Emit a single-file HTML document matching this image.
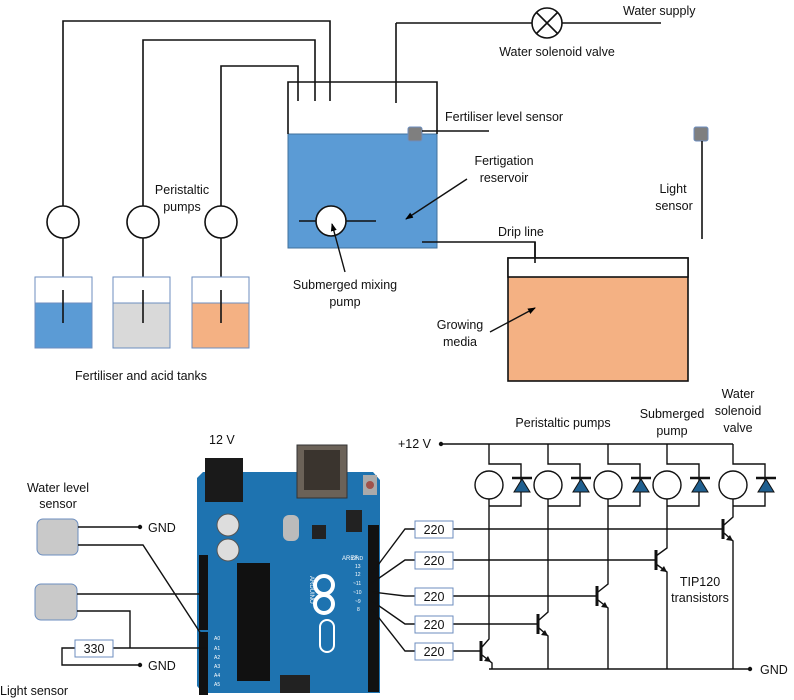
<!DOCTYPE html>
<html><head><meta charset="utf-8"><style>
body{margin:0;background:#fff}
svg{display:block}
text{font-family:"Liberation Sans",sans-serif;font-size:12.5px;fill:#111}
</style></head><body>
<svg width="794" height="700" viewBox="0 0 794 700" xmlns="http://www.w3.org/2000/svg">
<defs>
<marker id="ar" markerWidth="8" markerHeight="8" refX="7" refY="4" orient="auto" markerUnits="userSpaceOnUse"><path d="M0,1 L8,4 L0,7 Z" fill="#000"/></marker>
</defs>
<g fill="none" stroke="#111" stroke-width="1.6">
<!-- tank pipes -->
<polyline points="63,206 63,21 330,21 330,101"/>
<polyline points="143,206 143,40 315,40 315,101"/>
<polyline points="221,206 221,66 298,66 298,101"/>
<line x1="63" y1="238" x2="63" y2="323"/>
<line x1="143" y1="238" x2="143" y2="323"/>
<line x1="221" y1="238" x2="221" y2="323"/>
</g>
<!-- tanks -->
<rect x="35" y="277" width="57" height="71" fill="#fff" stroke="#6c8ebf" stroke-width="1"/>
<rect x="35" y="303" width="57" height="45" fill="#5b9bd5" stroke="#6c8ebf" stroke-width="1"/>
<rect x="113" y="277" width="57" height="71" fill="#fff" stroke="#6c8ebf" stroke-width="1"/>
<rect x="113" y="303" width="57" height="45" fill="#d9d9d9" stroke="#6c8ebf" stroke-width="1"/>
<rect x="192" y="277" width="57" height="71" fill="#fff" stroke="#6c8ebf" stroke-width="1"/>
<rect x="192" y="303" width="57" height="45" fill="#f4b183" stroke="#6c8ebf" stroke-width="1"/>
<g stroke="#111" stroke-width="1.6">
<line x1="63" y1="290" x2="63" y2="323"/><line x1="143" y1="290" x2="143" y2="323"/><line x1="221" y1="290" x2="221" y2="323"/>
</g>
<g fill="#fff" stroke="#111" stroke-width="1.6">
<circle cx="63" cy="222" r="16"/><circle cx="143" cy="222" r="16"/><circle cx="221" cy="222" r="16"/>
</g>
<!-- reservoir -->
<rect x="288" y="134" width="149" height="114" fill="#5b9bd5" stroke="#41719c" stroke-width="1"/>
<polyline points="288,134 288,82 437,82 437,134" fill="none" stroke="#111" stroke-width="1.6"/>
<line x1="396" y1="23" x2="396" y2="103" stroke="#111" stroke-width="1.6"/>
<line x1="396" y1="23" x2="532" y2="23" stroke="#111" stroke-width="1.6"/>
<line x1="562" y1="23" x2="661" y2="23" stroke="#111" stroke-width="1.6"/>
<circle cx="547" cy="23" r="15" fill="#fff" stroke="#111" stroke-width="1.6"/>
<line x1="536" y1="12" x2="558" y2="34" stroke="#111" stroke-width="1.6"/>
<line x1="558" y1="12" x2="536" y2="34" stroke="#111" stroke-width="1.6"/>
<rect x="408" y="127" width="14" height="14" rx="2" fill="#7f7f7f" stroke="#6c8ebf" stroke-width="1"/>
<line x1="422" y1="131" x2="489" y2="131" stroke="#111" stroke-width="1.4"/>
<line x1="299" y1="221" x2="376" y2="221" stroke="#111" stroke-width="1.6"/>
<circle cx="331" cy="221" r="15" fill="#fff" stroke="#111" stroke-width="1.6"/>
<line x1="345" y1="272" x2="332" y2="224" stroke="#111" stroke-width="1.4" marker-end="url(#ar)"/>
<line x1="467" y1="179" x2="406" y2="219" stroke="#111" stroke-width="1.4" marker-end="url(#ar)"/>
<polyline points="422,242 535,242 535,263" fill="none" stroke="#111" stroke-width="1.6"/>
<!-- growing media -->
<rect x="508" y="258" width="180" height="123" fill="#f4b183" stroke="#111" stroke-width="1.6"/>
<rect x="508" y="258" width="180" height="19" fill="#fff" stroke="#111" stroke-width="1.6"/>
<line x1="535" y1="242" x2="535" y2="263" stroke="#111" stroke-width="1.6"/>
<line x1="490" y1="332" x2="535" y2="308" stroke="#111" stroke-width="1.4" marker-end="url(#ar)"/>
<rect x="694" y="127" width="14" height="14" rx="2" fill="#7f7f7f" stroke="#6c8ebf" stroke-width="1"/>
<line x1="702" y1="141" x2="702" y2="239" stroke="#111" stroke-width="1.6"/>
<!-- top texts -->
<text x="623" y="15">Water supply</text>
<text x="557" y="56" text-anchor="middle">Water solenoid valve</text>
<text x="445" y="121">Fertiliser level sensor</text>
<text x="504" y="165" text-anchor="middle">Fertigation</text>
<text x="504" y="182" text-anchor="middle">reservoir</text>
<text x="182" y="194" text-anchor="middle">Peristaltic</text>
<text x="182" y="211" text-anchor="middle">pumps</text>
<text x="673" y="193" text-anchor="middle">Light</text>
<text x="674" y="210" text-anchor="middle">sensor</text>
<text x="498" y="236">Drip line</text>
<text x="345" y="289" text-anchor="middle">Submerged  mixing</text>
<text x="345" y="306" text-anchor="middle">pump</text>
<text x="460" y="329" text-anchor="middle">Growing</text>
<text x="460" y="346" text-anchor="middle">media</text>
<text x="141" y="380" text-anchor="middle">Fertiliser and acid tanks</text>

<!-- Arduino -->
<path d="M203,472 L373,472 L380,480 L380,693 L203,693 L197,686 L197,478 Z" fill="#1e73b0"/>
<rect x="205" y="458" width="38" height="44" fill="#1a1a1a"/>
<rect x="297" y="445" width="50" height="53" fill="#6b6258" stroke="#333"/>
<rect x="304" y="450" width="36" height="40" fill="#3a342e"/>
<rect x="363" y="475" width="14" height="20" fill="#aaa"/>
<circle cx="370" cy="485" r="4" fill="#a0524a"/>
<rect x="199" y="555" width="9" height="75" fill="#111"/>
<rect x="199" y="632" width="9" height="63" fill="#111"/>
<rect x="368" y="525" width="11" height="167" fill="#111"/>
<rect x="237" y="563" width="33" height="118" fill="#111"/>
<rect x="346" y="510" width="16" height="22" fill="#222"/>
<rect x="280" y="675" width="30" height="18" fill="#222"/>
<circle cx="228" cy="525" r="11" fill="#ddd" stroke="#555"/>
<circle cx="228" cy="550" r="11" fill="#ddd" stroke="#555"/>
<rect x="283" y="515" width="16" height="26" rx="6" fill="#bbb"/>
<rect x="312" y="525" width="14" height="14" fill="#222"/>
<circle cx="324" cy="585" r="9" fill="none" stroke="#fff" stroke-width="4"/>
<circle cx="324" cy="604" r="9" fill="none" stroke="#fff" stroke-width="4"/>
<rect x="320" y="620" width="14" height="32" rx="7" fill="none" stroke="#fff" stroke-width="2"/>
<text x="310" y="576" style="font-size:6px;fill:#fff" transform="rotate(90 310 576)">ARDUINO</text>
<text x="342" y="560" style="font-size:6px;fill:#fff">AREF</text>
<g style="font-size:6px" fill="#fff">
<text x="352" y="560" style="font-size:5px;fill:#fff">GND</text>
<text x="355" y="568" style="font-size:5px;fill:#fff">13</text>
<text x="355" y="576" style="font-size:5px;fill:#fff">12</text>
<text x="353" y="585" style="font-size:5px;fill:#fff">~11</text>
<text x="353" y="594" style="font-size:5px;fill:#fff">~10</text>
<text x="355" y="603" style="font-size:5px;fill:#fff">~9</text>
<text x="357" y="611" style="font-size:5px;fill:#fff">8</text>
<text x="214" y="640" style="font-size:5px;fill:#fff">A0</text>
<text x="214" y="650" style="font-size:5px;fill:#fff">A1</text>
<text x="214" y="659" style="font-size:5px;fill:#fff">A2</text>
<text x="214" y="668" style="font-size:5px;fill:#fff">A3</text>
<text x="214" y="677" style="font-size:5px;fill:#fff">A4</text>
<text x="214" y="686" style="font-size:5px;fill:#fff">A5</text>
</g>
<text x="209" y="444">12 V</text>

<!-- left sensors -->
<text x="58" y="492" text-anchor="middle">Water level</text>
<text x="58" y="508" text-anchor="middle">sensor</text>
<rect x="37" y="519" width="41" height="36" rx="6" fill="#c9c9c9" stroke="#6c8ebf"/>
<rect x="35" y="584" width="42" height="36" rx="6" fill="#c9c9c9" stroke="#6c8ebf"/>
<g fill="none" stroke="#111" stroke-width="1.4">
<line x1="78" y1="527" x2="140" y2="527"/>
<polyline points="78,545 143,545 203,637"/>
<line x1="77" y1="594" x2="201" y2="594"/>
<polyline points="77,611 130,611 130,648"/>
<line x1="113" y1="648" x2="207" y2="648"/>
<polyline points="75,648 62,648 62,665 140,665"/>
</g>
<circle cx="140" cy="527" r="2.2" fill="#111"/>
<circle cx="140" cy="665" r="2.2" fill="#111"/>
<text x="148" y="532">GND</text>
<text x="148" y="670">GND</text>
<rect x="75" y="640" width="38" height="17" fill="#fff" stroke="#6c8ebf"/>
<text x="94" y="653" text-anchor="middle">330</text>
<text x="0" y="695">Light sensor</text>

<!-- driver circuit -->
<g fill="none" stroke="#111" stroke-width="1.4">
<line x1="441" y1="444" x2="733" y2="444"/>
<line x1="489" y1="669" x2="750" y2="669"/>
<!-- wires to arduino -->
<polyline points="372,573 405,529 415,529"/>
<polyline points="372,583 405,560 415,560"/>
<polyline points="372,592 405,596 415,596"/>
<polyline points="372,601 405,624 415,624"/>
<polyline points="372,609 405,651 415,651"/>
</g>
<circle cx="441" cy="444" r="2.2" fill="#111"/>
<circle cx="750" cy="669" r="2.2" fill="#111"/>
<text x="398" y="448">+12 V</text>
<text x="760" y="674">GND</text>

<g id="motors" stroke="#111" stroke-width="1.4" fill="none">
<!-- col x: 489,548,608,667,733 -->
<g>
<polyline points="489,444 489,464 521,464 521,506 489,506"/>
<polyline points="548,444 548,464 580,464 580,506 548,506"/>
<polyline points="608,444 608,464 640,464 640,506 608,506"/>
<polyline points="667,444 667,464 699,464 699,506 667,506"/>
<polyline points="733,444 733,464 765,464 765,506 733,506"/>
</g>
</g>
<g fill="#fff" stroke="#111" stroke-width="1.4">
<circle cx="489" cy="485" r="14"/><circle cx="548" cy="485" r="14"/><circle cx="608" cy="485" r="14"/><circle cx="667" cy="485" r="14"/><circle cx="733" cy="485" r="14"/>
</g>
<g fill="#1f5f8f" stroke="#111" stroke-width="1">
<path d="M512,478 L532,478 M514,492 L530,492 L522,479 Z"/>
<path d="M571,478 L591,478 M573,492 L589,492 L581,479 Z"/>
<path d="M631,478 L651,478 M633,492 L649,492 L641,479 Z"/>
<path d="M690,478 L710,478 M692,492 L708,492 L700,479 Z"/>
<path d="M756,478 L776,478 M758,492 L774,492 L766,479 Z"/>
</g>
<g stroke="#111" stroke-width="2.4">
<line x1="512" y1="478" x2="532" y2="478"/><line x1="571" y1="478" x2="591" y2="478"/><line x1="631" y1="478" x2="651" y2="478"/><line x1="690" y1="478" x2="710" y2="478"/><line x1="756" y1="478" x2="776" y2="478"/>
</g>
<!-- transistors -->
<g fill="none" stroke="#111" stroke-width="1.4">
<!-- row1 -->
<line x1="453" y1="529" x2="723" y2="529"/>
<polyline points="733,499 733,517 724,525"/>
<polyline points="724,533 733,541 733,669"/>
<!-- row2 -->
<line x1="453" y1="560" x2="655" y2="560"/>
<polyline points="667,499 667,548 656,556"/>
<polyline points="656,564 667,572 667,669"/>
<!-- row3 -->
<line x1="453" y1="596" x2="597" y2="596"/>
<polyline points="608,499 608,584 598,592"/>
<polyline points="598,600 608,608 608,669"/>
<!-- row4 -->
<line x1="453" y1="624" x2="538" y2="624"/>
<polyline points="548,499 548,612 539,620"/>
<polyline points="539,628 548,636 548,669"/>
<!-- row5 -->
<line x1="453" y1="651" x2="481" y2="651"/>
<polyline points="489,499 489,639 482,647"/>
<polyline points="482,655 492,663 492,669"/>
</g>
<g stroke="#111" stroke-width="3">
<line x1="723" y1="519" x2="723" y2="539"/>
<line x1="656" y1="550" x2="656" y2="570"/>
<line x1="597" y1="586" x2="597" y2="606"/>
<line x1="538" y1="614" x2="538" y2="634"/>
<line x1="481" y1="641" x2="481" y2="661"/>
</g>
<g fill="#111">
<path d="M733,541 L726,540 L730,535 Z"/>
<path d="M667,572 L660,571 L664,566 Z"/>
<path d="M608,608 L601,607 L605,602 Z"/>
<path d="M548,636 L541,635 L545,630 Z"/>
<path d="M491,662 L484,661 L488,656 Z"/>
</g>
<g fill="#fff" stroke="#6c8ebf">
<rect x="415" y="521" width="38" height="17"/>
<rect x="415" y="552" width="38" height="17"/>
<rect x="415" y="588" width="38" height="17"/>
<rect x="415" y="616" width="38" height="17"/>
<rect x="415" y="643" width="38" height="17"/>
</g>
<text x="434" y="534" text-anchor="middle">220</text>
<text x="434" y="565" text-anchor="middle">220</text>
<text x="434" y="601" text-anchor="middle">220</text>
<text x="434" y="629" text-anchor="middle">220</text>
<text x="434" y="656" text-anchor="middle">220</text>
<text x="563" y="427" text-anchor="middle">Peristaltic pumps</text>
<text x="672" y="418" text-anchor="middle">Submerged</text>
<text x="672" y="435" text-anchor="middle">pump</text>
<text x="738" y="398" text-anchor="middle">Water</text>
<text x="738" y="415" text-anchor="middle">solenoid</text>
<text x="738" y="432" text-anchor="middle">valve</text>
<text x="700" y="586" text-anchor="middle">TIP120</text>
<text x="700" y="602" text-anchor="middle">transistors</text>
</svg>
</body></html>
